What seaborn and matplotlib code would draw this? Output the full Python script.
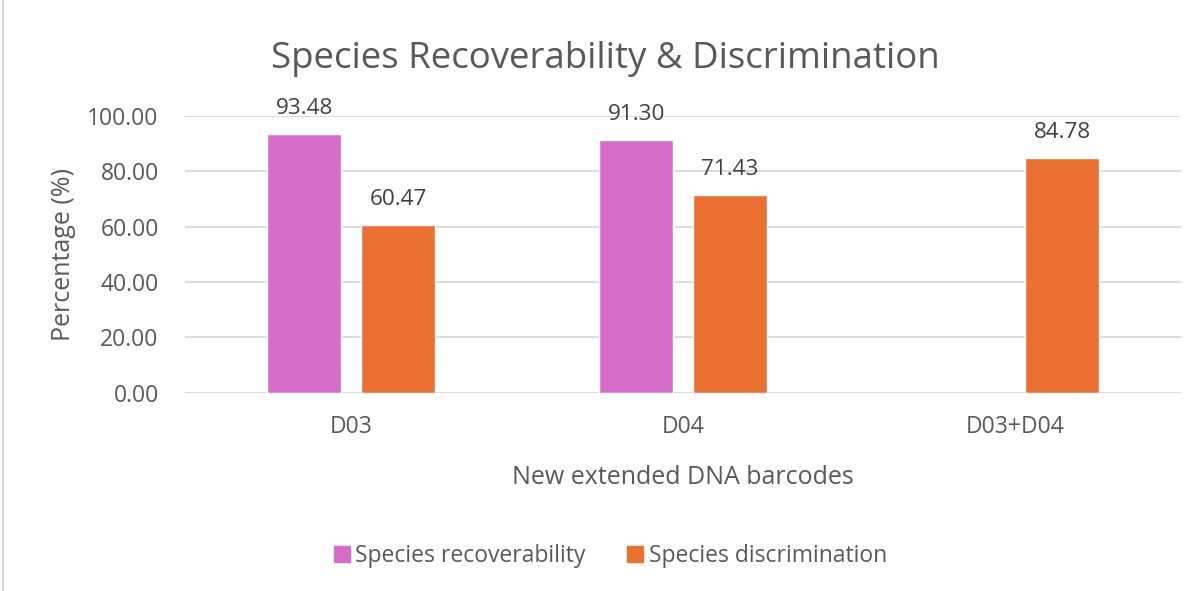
import matplotlib
matplotlib.use("Agg")
import matplotlib.pyplot as plt
import seaborn as sns
import pandas as pd
import numpy as np
from matplotlib.lines import Line2D

categories = ["D03", "D04", "D03+D04"]
recoverability = [93.48, 91.30, np.nan]
discrimination = [60.47, 71.43, 84.78]
series_names = ["Species recoverability", "Species discrimination"]
colors = ["#D76DC8", "#EA7132"]
yticks = [0, 20, 40, 60, 80, 100]

df = pd.DataFrame({
    "barcode": categories * 2,
    "series": [series_names[0]] * 3 + [series_names[1]] * 3,
    "value": recoverability + discrimination,
})

sns.set_theme(style="white")
plt.rcParams["font.family"] = ["Open Sans", "DejaVu Sans"]

fig = plt.figure(figsize=(12.04, 5.91), dpi=100)
ax = fig.add_axes([0.1537, 0.3355, 0.981 - 0.1537, 0.8037 - 0.3355])

sns.barplot(data=df, x="barcode", y="value", hue="series", order=categories,
            hue_order=series_names, palette=colors, width=0.566, gap=0.212,
            saturation=1, ax=ax, legend=True, errorbar=None)

for c in ax.containers:
    ax.bar_label(c, fmt="%.2f", padding=11, fontsize=16.2, color="#404040")

ax.set_ylim(0, 100)
ax.set_xlim(-0.5, 2.5)
ax.set_yticks(yticks)
ax.set_yticklabels([f"{v:.2f}" for v in yticks])
ax.yaxis.grid(True, color="#D9D9D9", linewidth=1.3)
ax.set_axisbelow(True)
for s in ax.spines.values():
    s.set_visible(False)
ax.tick_params(axis="y", length=0, pad=19, labelsize=16.5, labelcolor="#595959")
ax.tick_params(axis="x", length=0, pad=16, labelsize=16.5, labelcolor="#595959")
ax.set_xlabel("New extended DNA barcodes", fontsize=18, color="#595959", labelpad=19)
ax.set_ylabel("Percentage (%)", fontsize=18, color="#595959", labelpad=8)

handles = [Line2D([], [], marker="s", linestyle="none", markersize=12,
                  markerfacecolor=col, markeredgecolor=col) for col in colors]
ax.legend(handles, series_names, loc="center", bbox_to_anchor=(0.427, -0.59),
          ncol=2, frameon=False, fontsize=16.5, labelcolor="#595959",
          handletextpad=0.25, columnspacing=1.8, handlelength=0.7)

fig.text(0.503, 0.9, "Species Recoverability & Discrimination", ha="center",
         va="center", fontsize=26.4, color="#595959")

fig.add_artist(Line2D([0.0021, 0.0021], [0, 1], transform=fig.transFigure,
                      color="#D0D0D0", linewidth=1.2))

fig.savefig("out.png", dpi=100, facecolor="white")
